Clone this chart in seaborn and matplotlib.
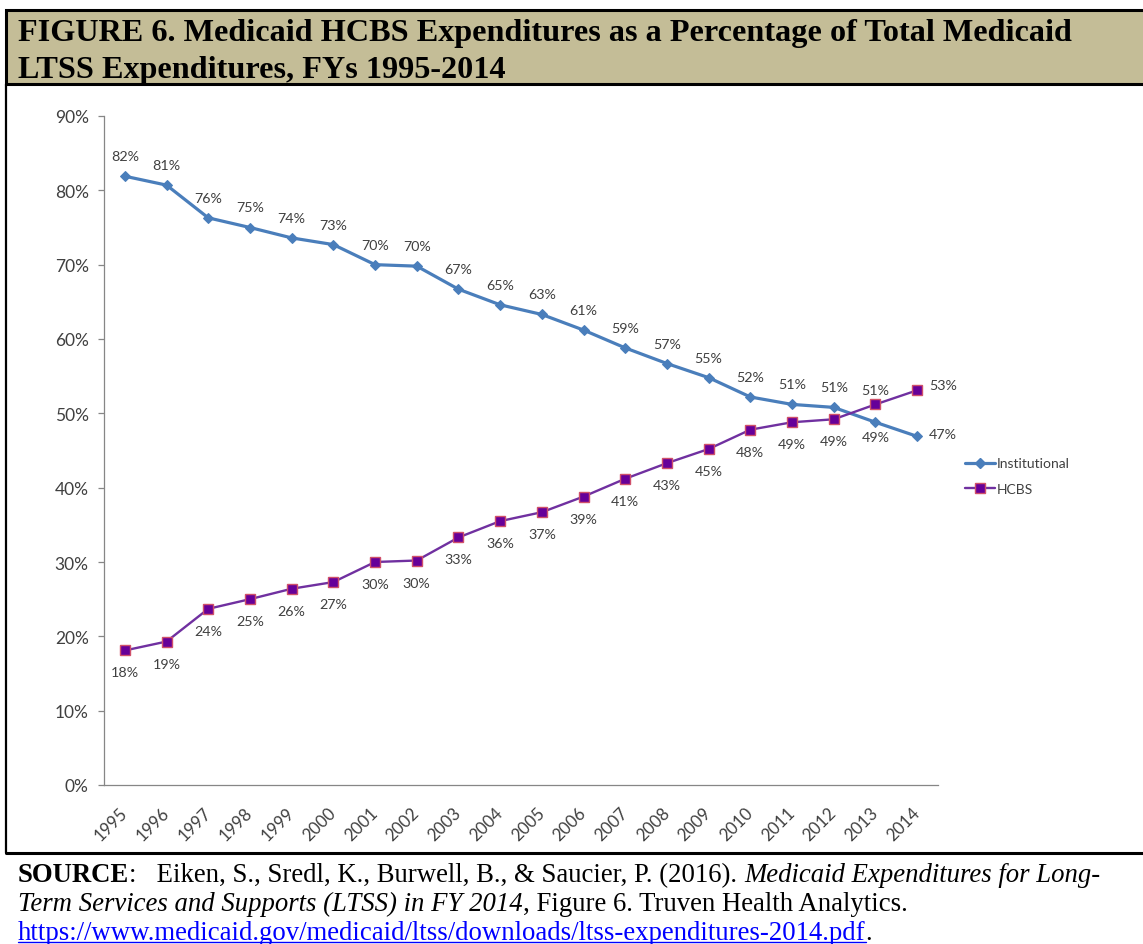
import matplotlib
matplotlib.use('Agg')
import matplotlib.pyplot as plt
from matplotlib.lines import Line2D
from matplotlib.patches import Rectangle
from matplotlib.ticker import FixedLocator, FuncFormatter
import numpy as np
import pandas as pd
import seaborn as sns

# data (percent of total LTSS spending)
years = ['1995', '1996', '1997', '1998', '1999', '2000', '2001', '2002', '2003', '2004',
         '2005', '2006', '2007', '2008', '2009', '2010', '2011', '2012', '2013', '2014']
institutional = [81.9, 80.7, 76.3, 75.0, 73.6, 72.7, 70.0, 69.8, 66.7, 64.6,
                 63.3, 61.2, 58.8, 56.7, 54.8, 52.2, 51.2, 50.8, 48.8, 46.9]
hcbs = [18.1, 19.3, 23.7, 25.0, 26.4, 27.3, 30.0, 30.2, 33.3, 35.5,
        36.7, 38.8, 41.2, 43.3, 45.2, 47.8, 48.8, 49.2, 51.2, 53.1]

title_lines = ['FIGURE 6. Medicaid HCBS Expenditures as a Percentage of Total Medicaid',
               'LTSS Expenditures, FYs 1995-2014']

W, H = 1143, 945
BLUE = '#4a7ebb'
PURPLE = '#7030a0'
GREY_TXT = '#404040'
AXIS_GREY = '#868686'
TAN = '#c4bd97'

sns.set_style('white')
plt.rcParams['font.family'] = ['Lato', 'DejaVu Sans']

df = pd.DataFrame({
    'Year': years * 2,
    'Share': institutional + hcbs,
    'Series': ['Institutional'] * len(years) + ['HCBS'] * len(years),
})

fig = plt.figure(figsize=(W / 100, H / 100), dpi=100)
fig.patch.set_facecolor('white')


def fx(px):
    return px / W


def fy(py):
    return 1 - py / H


ax = fig.add_axes([fx(104), fy(786), fx(938 - 104), (786 - 117) / H])

sns.lineplot(data=df[df['Series'] == 'Institutional'], x='Year', y='Share', ax=ax,
             color=BLUE, linewidth=2.3, marker='D', markersize=5.5,
             markeredgecolor=BLUE, markerfacecolor=BLUE, legend=False)
sns.lineplot(data=df[df['Series'] == 'HCBS'], x='Year', y='Share', ax=ax,
             color=PURPLE, linewidth=1.7, marker='s', markersize=7.5,
             markeredgecolor='#d0506a', markeredgewidth=1.0, markerfacecolor='#660099',
             legend=False)

ax.set_xlim(-0.5, len(years) - 0.5)
ax.set_ylim(0, 90)
ax.set_yticks(range(0, 100, 10))
ax.yaxis.set_major_formatter(FuncFormatter(lambda v, p: f'{v:.0f}%'))
ax.set_xlabel('')
ax.set_ylabel('')

# data labels
def lab(v):
    return f'{int(np.floor(v + 0.5))}%'


inst_off = {'2013': (0, -15), '2014': (26, 2)}
hcbs_off = {'2013': (0, 14), '2014': (26, 5)}
for i, (yr, v) in enumerate(zip(years, institutional)):
    dx, dy = inst_off.get(yr, (0, 20))
    ax.annotate(lab(v), (i, v), xytext=(dx, dy), textcoords='offset pixels',
                ha='center', va='center', fontsize=10.3, color=GREY_TXT)
for i, (yr, v) in enumerate(zip(years, hcbs)):
    dx, dy = hcbs_off.get(yr, (0, -22))
    ax.annotate(lab(v), (i, v), xytext=(dx, dy), textcoords='offset pixels',
                ha='center', va='center', fontsize=10.3, color=GREY_TXT)

for s in ['top', 'right']:
    ax.spines[s].set_visible(False)
for s in ['left', 'bottom']:
    ax.spines[s].set_color(AXIS_GREY)
    ax.spines[s].set_linewidth(0.9)

ax.xaxis.set_minor_locator(FixedLocator(np.arange(-0.5, len(years), 1)))
ax.tick_params(axis='x', which='major', length=0, pad=18, labelsize=12.2, labelcolor=GREY_TXT)
ax.tick_params(axis='x', which='minor', length=4, color=AXIS_GREY, width=0.9, direction='out')
ax.tick_params(axis='y', which='major', length=4, color=AXIS_GREY, width=0.9, pad=7,
               labelsize=12.5, labelcolor=GREY_TXT, left=True)
for t in ax.get_xticklabels():
    t.set_rotation(45)
    t.set_ha('right')
    t.set_va('center')
    t.set_rotation_mode('anchor')

handles = [
    Line2D([], [], color=BLUE, lw=2.3, marker='D', ms=5.5, mec=BLUE, mfc=BLUE),
    Line2D([], [], color=PURPLE, lw=1.7, marker='s', ms=7.5, mec='#d0506a', mfc='#660099'),
]
fig.legend(handles, ['Institutional', 'HCBS'], loc='upper left',
           bbox_to_anchor=(fx(952), fy(446)), frameon=False, fontsize=10,
           handlelength=2.2, handletextpad=0.15, labelspacing=0.95, labelcolor=GREY_TXT)

# frame and title band
fig.add_artist(Rectangle((fx(6), fy(85)), fx(W + 10), (85 - 11) / H, transform=fig.transFigure,
                         facecolor=TAN, edgecolor='black', linewidth=2.2))
fig.add_artist(Line2D([fx(6), fx(6)], [fy(85), fy(854)], transform=fig.transFigure,
                      color='black', lw=1.6))
fig.add_artist(Line2D([fx(6), fx(W + 5)], [fy(854), fy(854)], transform=fig.transFigure,
                      color='black', lw=2.2))

serif = 'Liberation Serif'
fig.text(fx(18), fy(41), title_lines[0], family=serif, weight='bold', fontsize=23.2,
         va='baseline', ha='left', color='black')
fig.text(fx(18), fy(78), title_lines[1], family=serif, weight='bold', fontsize=23.2,
         va='baseline', ha='left', color='black')

renderer = fig.canvas.get_renderer()


def text_width(s, **kw):
    a = fig.text(0, 0, '|' + s + '|', **kw)
    b = fig.text(0, 0, '||', **kw)
    w = a.get_window_extent(renderer).width - b.get_window_extent(renderer).width
    a.remove()
    b.remove()
    return w


def draw_runs(x, y, runs, size=19.3):
    for s, kw in runs:
        kw = dict(kw)
        underline = kw.pop('underline', False)
        kw.setdefault('color', 'black')
        style = dict(family=serif, fontsize=size, **kw)
        fig.text(fx(x), fy(y), s, va='baseline', ha='left', **style)
        w = text_width(s, **style)
        if underline:
            fig.add_artist(Line2D([fx(x), fx(x + w)], [fy(y + 3), fy(y + 3)],
                                  transform=fig.transFigure, color=kw['color'], lw=1))
        x += w


draw_runs(18, 882, [('SOURCE', {'weight': 'bold'}),
                    (':   Eiken, S., Sredl, K., Burwell, B., & Saucier, P. (2016). ', {}),
                    ('Medicaid Expenditures for Long-', {'style': 'italic'})])
draw_runs(18, 911, [('Term Services and Supports (LTSS) in FY 2014', {'style': 'italic'}),
                    (', Figure 6. Truven Health Analytics.', {})])
draw_runs(18, 940, [('https://www.medicaid.gov/medicaid/ltss/downloads/ltss-expenditures-2014.pdf',
                     {'color': '#0000ff', 'underline': True}),
                    ('.', {})])

fig.savefig('out.png', dpi=100)
